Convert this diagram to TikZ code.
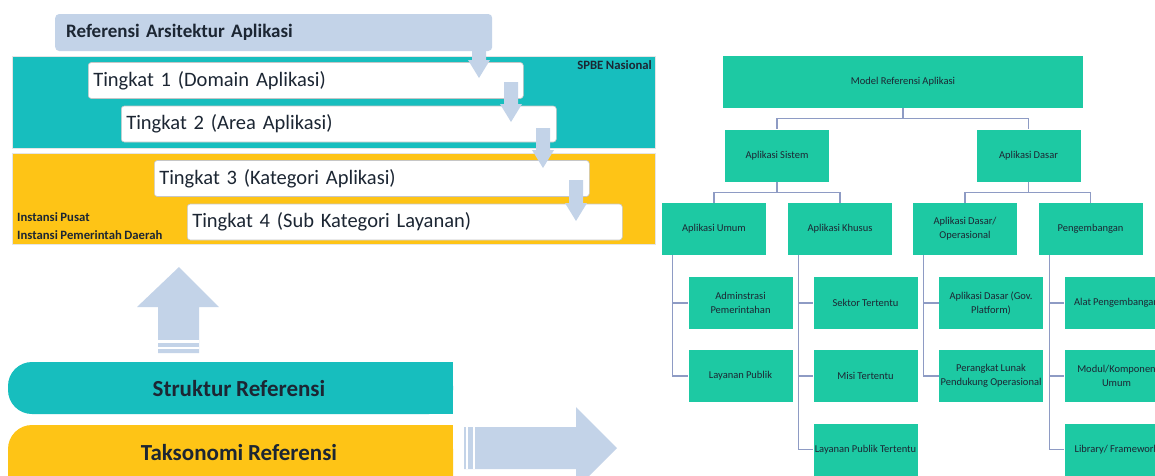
\documentclass[tikz,border=0pt]{standalone}
\usepackage{fontspec}
\setmainfont{Carlito}[WordSpace=0.9]
\definecolor{strukturteal}{HTML}{17BEBE}
\definecolor{taksyellow}{HTML}{FEC416}
\definecolor{arrowblue}{HTML}{C3D3E8}
\definecolor{treegreen}{HTML}{1DC9A3}
\definecolor{treeline}{HTML}{8E9BC4}
\definecolor{darktext}{HTML}{1C2633}
\tikzset{
  level box/.style={fill=white,draw=gray!45,line width=0.6pt,rounded corners=3pt,
    minimum height=36pt,text width=425pt,inner xsep=5pt,align=left,anchor=west,
    text=darktext,font=\fontsize{20.5}{23}\selectfont},
  tree box/.style={fill=treegreen,minimum width=104pt,minimum height=52pt,inner sep=1pt,
    align=center,text=darktext,font=\fontsize{10.5}{14}\selectfont},
  tree edge/.style={draw=treeline,line width=1.2pt},
  small label/.style={text=darktext,font=\bfseries\fontsize{12.7}{14}\selectfont,inner sep=0pt},
  band label/.style={text=darktext,font=\bfseries\fontsize{23}{26}\selectfont}
}

\begin{document}
\begin{tikzpicture}[x=1pt,y=-1pt]
      \clip (0,0) rectangle (1155,475);
      \fill[white] (0,0) rectangle (1155,475);

      %Referensi Arsitektur
      \node[fill=arrowblue,rounded corners=4pt,minimum height=37pt,text width=415pt,inner xsep=11pt,
        align=left,anchor=west,text=darktext,font=\bfseries\fontsize{19}{22}\selectfont]
        (refbar) at (55,32.5) {Referensi Arsitektur Aplikasi};

      %SPBE Nasional dan Instansi
      \fill[strukturteal,draw=gray!20,line width=1pt] (12,56) rectangle (655,148);
      \fill[taksyellow,draw=gray!20,line width=1pt] (12,153) rectangle (655,244);
      \node[small label,anchor=east] (spbe) at (652,65) {SPBE Nasional};
      \node[small label,anchor=west] (pusat) at (17,217) {Instansi Pusat};
      \node[small label,anchor=west] (daerah) at (17,235) {Instansi Pemerintah Daerah};

      %Tingkat 1-4
      \node[level box] (t1) at (88,80.5) {Tingkat 1 (Domain Aplikasi)};
      \node[level box] (t2) at (121,124) {Tingkat 2 (Area Aplikasi)};
      \node[level box] (t3) at (154,178.5) {Tingkat 3 (Kategori Aplikasi)};
      \node[level box] (t4) at (187,222) {Tingkat 4 (Sub Kategori Layanan)};

      %panah turun
      \foreach \cx/\ya/\yb in {479/50/78, 511/82/122, 543/128/168, 576/180/221}
        \fill[arrowblue] (\cx-7,\ya) -- (\cx+7,\ya) -- (\cx+7,\yb-18) -- (\cx+11,\yb-18)
          -- (\cx,\yb) -- (\cx-11,\yb-18) -- (\cx-7,\yb-18) -- cycle;

      %panah naik
      \fill[arrowblue] (158,353) -- (158,307) -- (137,307) -- (179,267) -- (219,307)
        -- (199,307) -- (199,353) -- cycle;
      \fill[white] (158,340) rectangle (199,342.5);
      \fill[white] (158,346.5) rectangle (199,348.5);

      %Struktur dan Taksonomi
      \fill[strukturteal,rounded corners=24pt] (8,362) rectangle (453,414);
      \fill[strukturteal] (300,362) rectangle (453,414);
      \node[band label] (struktur) at (239,389) {Struktur Referensi};
      \fill[taksyellow,rounded corners=24pt] (8,425) rectangle (453,500);
      \fill[taksyellow] (300,425) rectangle (453,500);
      \node[band label] (taksonomi) at (239,453) {Taksonomi Referensi};

      %panah kanan
      \fill[arrowblue] (464,427) -- (576,427) -- (576,407) -- (617,448) -- (576,489)
        -- (576,469) -- (464,469) -- cycle;
      \fill[white] (466,427) rectangle (467.5,469);
      \fill[white] (473,427) rectangle (475,469);

      %Model Referensi Aplikasi
      \node[tree box,minimum width=360pt] (model) at (903,82) {Model Referensi Aplikasi};
      \node[tree box] (sistem) at (777,155.5) {Aplikasi Sistem};
      \node[tree box] (dasar) at (1028.5,155.5) {Aplikasi Dasar};
      \node[tree box] (umum) at (714,229) {Aplikasi Umum};
      \node[tree box] (khusus) at (840,229) {Aplikasi Khusus};
      \node[tree box] (dasarop) at (965,229) {Aplikasi Dasar/\\Operasional};
      \node[tree box] (pengemb) at (1090.5,229) {Pengembangan};

      \node[tree box] (adm) at (740.5,303) {Adminstrasi\\Pemerintahan};
      \node[tree box] (laypub) at (740.5,376) {Layanan Publik};
      \node[tree box] (sektor) at (865.5,303) {Sektor Tertentu};
      \node[tree box] (misi) at (865.5,376) {Misi Tertentu};
      \node[tree box] (laytertentu) at (865.5,449.5) {Layanan Publik Tertentu};
      \node[tree box] (gov) at (991,303) {Aplikasi Dasar (Gov.\\Platform)};
      \node[tree box] (perangkat) at (991,376) {Perangkat Lunak\\Pendukung Operasional};
      \node[tree box] (alat) at (1116.5,303) {Alat Pengembangan};
      \node[tree box] (modul) at (1116.5,376) {Modul/Komponen\\Umum};
      \node[tree box] (library) at (1116.5,449.5) {Library/ Framework};

      \draw[tree edge] (model.south) -- ++(0,10) -| (sistem.north);
      \draw[tree edge] (model.south) -- ++(0,10) -| (dasar.north);
      \draw[tree edge] (sistem.south) -- ++(0,10.5) -| (umum.north);
      \draw[tree edge] (sistem.south) -- ++(0,10.5) -| (khusus.north);
      \draw[tree edge] (dasar.south) -- ++(0,10.5) -| (dasarop.north);
      \draw[tree edge] (dasar.south) -- ++(0,10.5) -| (pengemb.north);

      \foreach \up/\down in {umum/adm, umum/laypub, khusus/sektor, khusus/misi, khusus/laytertentu,
          dasarop/gov, dasarop/perangkat, pengemb/alat, pengemb/modul, pengemb/library}
        \draw[tree edge] ([xshift=11pt]\up.south west) |- (\down.west);

    \end{tikzpicture}
\end{document}
